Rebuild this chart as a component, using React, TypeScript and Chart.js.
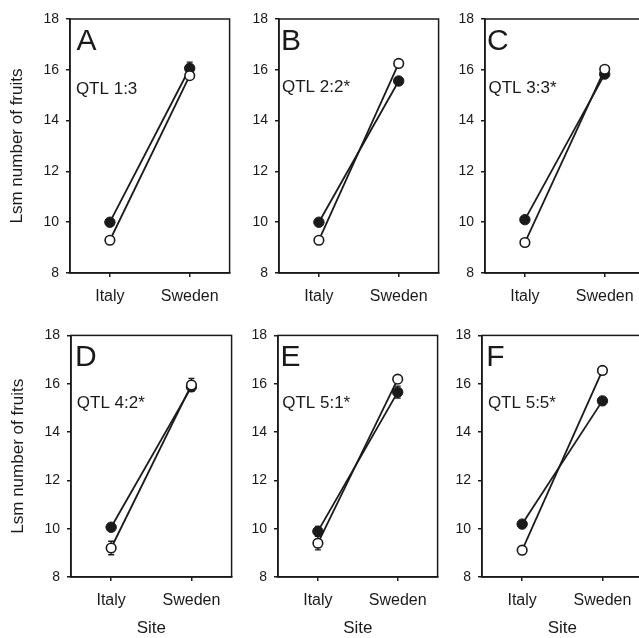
import React, { useEffect, useRef } from 'react';
import { Chart, registerables } from 'chart.js';

Chart.register(...registerables);

// ---------------- data ----------------
const categories = ['Italy', 'Sweden'];
const panelLetters = ['A', 'B', 'C', 'D', 'E', 'F'];
const qtlLabels = ['QTL 1:3', 'QTL 2:2*', 'QTL 3:3*', 'QTL 4:2*', 'QTL 5:1*', 'QTL 5:5*'];

// filled circles (one genotype class)
const filledValues = [
  [10.0, 16.06],
  [10.0, 15.56],
  [10.1, 15.83],
  [10.06, 15.87],
  [9.89, 15.65],
  [10.19, 15.29],
];
// open circles (other genotype class)
const openValues = [
  [9.29, 15.77],
  [9.29, 16.25],
  [9.2, 16.02],
  [9.2, 15.95],
  [9.4, 16.19],
  [9.11, 16.55],
];
const filledErrors = [
  [0.12, 0.24],
  [0.12, 0.12],
  [0.12, 0.12],
  [0.12, 0.14],
  [0.2, 0.25],
  [0.12, 0.12],
];
const openErrors = [
  [0.12, 0.12],
  [0.12, 0.12],
  [0.12, 0.12],
  [0.28, 0.27],
  [0.28, 0.15],
  [0.12, 0.12],
];

const yMin = 8;
const yMax = 18;
const yStep = 2;
const xTitle = 'Site';
const yTitle = 'Lsm number of fruits';

// ---------------- layout / style ----------------
const FONT = '"Liberation Sans", Arial, Helvetica, sans-serif';
const INK = '#1a1a1a';
const Y_W = 70;
const PAD_R = 4;

const panelAreas = [
  { left: 70, top: 19, width: 162, height: 254, rowTop: 0 },
  { left: 279, top: 19, width: 162, height: 254, rowTop: 0 },
  { left: 485, top: 19, width: 162, height: 254, rowTop: 0 },
  { left: 71, top: 331, width: 163, height: 246, rowTop: 320 },
  { left: 278, top: 331, width: 162, height: 246, rowTop: 320 },
  { left: 482, top: 331, width: 163, height: 246, rowTop: 320 },
];
const letterOffsets = [6.5, 2, 2, 4, 2.5, 4.3];
const qtlOffsets = [5.9, 3, 3.5, 5.8, 4.2, 5.9];
const qtlBaselines = [75, 73.3, 74.3, 73, 72.5, 72.5];

const errorBarPlugin = {
  id: 'errorBars',
  beforeDatasetsDraw(chart: any) {
    const ctx = chart.ctx;
    const ys = chart.scales.y;
    chart.data.datasets.forEach((ds: any, di: number) => {
      const meta = chart.getDatasetMeta(di);
      meta.data.forEach((pt: any, j: number) => {
        const v = ds.data[j];
        const e = ds.err ? ds.err[j] : 0;
        if (!e) return;
        const y1 = ys.getPixelForValue(v + e);
        const y2 = ys.getPixelForValue(v - e);
        ctx.save();
        ctx.strokeStyle = INK;
        ctx.lineWidth = 1.3;
        ctx.beginPath();
        ctx.moveTo(pt.x, y1);
        ctx.lineTo(pt.x, y2);
        ctx.moveTo(pt.x - 3, y1);
        ctx.lineTo(pt.x + 3, y1);
        ctx.moveTo(pt.x - 3, y2);
        ctx.lineTo(pt.x + 3, y2);
        ctx.stroke();
        ctx.restore();
      });
    });
  },
};

const framePlugin = {
  id: 'frame',
  afterDraw(chart: any) {
    const { ctx, chartArea } = chart;
    ctx.save();
    ctx.strokeStyle = INK;
    ctx.lineWidth = 1.5;
    ctx.strokeRect(chartArea.left, chartArea.top, chartArea.right - chartArea.left, chartArea.bottom - chartArea.top);
    ctx.restore();
  },
};

function makeLabelPlugin(index: number) {
  return {
    id: 'panelLabels',
    afterDraw(chart: any) {
      const { ctx, chartArea } = chart;
      ctx.save();
      ctx.fillStyle = INK;
      ctx.textAlign = 'left';
      ctx.textBaseline = 'alphabetic';
      ctx.font = `30px ${FONT}`;
      ctx.fillText(panelLetters[index], chartArea.left + letterOffsets[index], chartArea.top + 31);
      ctx.font = `17px ${FONT}`;
      ctx.fillText(qtlLabels[index], chartArea.left + qtlOffsets[index], chartArea.top + qtlBaselines[index]);
      ctx.restore();
    },
  };
}

function Panel({ index }: { index: number }) {
  const ref = useRef<HTMLCanvasElement>(null);
  const area = panelAreas[index];
  const showYTitle = index % 3 === 0;
  const showXTitle = index >= 3;
  const xH = showXTitle ? 62 : 40;
  const padT = area.top - area.rowTop;
  const canvasLeft = area.left - Y_W;
  const cw = Y_W + area.width + PAD_R;
  const ch = padT + area.height + xH;

  useEffect(() => {
    if (!ref.current) return;
    const gridOpts = {
      display: true,
      drawOnChartArea: false,
      drawTicks: true,
      tickLength: 4,
      color: INK,
      lineWidth: 1.5,
      offset: false,
    };
    const chart = new Chart(ref.current, {
      type: 'line',
      data: {
        labels: categories,
        datasets: [
          {
            label: 'open',
            data: openValues[index],
            err: openErrors[index],
            order: 0,
            borderColor: INK,
            borderWidth: 1.8,
            pointRadius: 4.8,
            pointBackgroundColor: '#ffffff',
            pointBorderColor: INK,
            pointBorderWidth: 1.6,
            fill: false,
            tension: 0,
          } as any,
          {
            label: 'filled',
            data: filledValues[index],
            err: filledErrors[index],
            order: 1,
            borderColor: INK,
            borderWidth: 1.8,
            pointRadius: 5.2,
            pointBackgroundColor: INK,
            pointBorderColor: INK,
            pointBorderWidth: 1,
            fill: false,
            tension: 0,
          } as any,
        ],
      },
      options: {
        responsive: false,
        animation: false,
        devicePixelRatio: 1,
        layout: { padding: { top: padT, right: PAD_R, left: 0, bottom: 0 } },
        plugins: { legend: { display: false }, tooltip: { enabled: false } },
        scales: {
          x: {
            type: 'category',
            offset: true,
            grid: gridOpts,
            border: { display: true, color: INK, width: 1.5 },
            ticks: {
              color: INK,
              font: { family: FONT, size: 16 },
              padding: 10,
              maxRotation: 0,
              autoSkip: false,
            },
            title: {
              display: showXTitle,
              text: xTitle,
              color: INK,
              font: { family: FONT, size: 17 },
              padding: 0,
            },
            afterFit: (s: any) => {
              s.height = xH;
            },
          },
          y: {
            type: 'linear',
            min: yMin,
            max: yMax,
            grid: gridOpts,
            border: { display: true, color: INK, width: 1.5 },
            ticks: {
              stepSize: yStep,
              color: INK,
              font: { family: FONT, size: 14 },
              padding: 7,
            },
            title: {
              display: showYTitle,
              text: yTitle,
              color: INK,
              font: { family: FONT, size: 17 },
              padding: { top: 7, bottom: 0 },
            },
            afterFit: (s: any) => {
              s.width = Y_W;
            },
          },
        },
      } as any,
      plugins: [errorBarPlugin, framePlugin, makeLabelPlugin(index)],
    });
    return () => chart.destroy();
  }, [index]);

  return (
    <canvas
      ref={ref}
      width={cw}
      height={ch}
      style={{ position: 'absolute', left: canvasLeft, top: area.rowTop, width: cw, height: ch }}
    />
  );
}

export default function App() {
  return (
    <div
      style={{
        position: 'fixed',
        left: 0,
        top: 0,
        width: 639,
        height: 638,
        overflow: 'hidden',
        background: '#ffffff',
      }}
    >
      {panelLetters.map((_, i) => (
        <Panel key={i} index={i} />
      ))}
    </div>
  );
}
